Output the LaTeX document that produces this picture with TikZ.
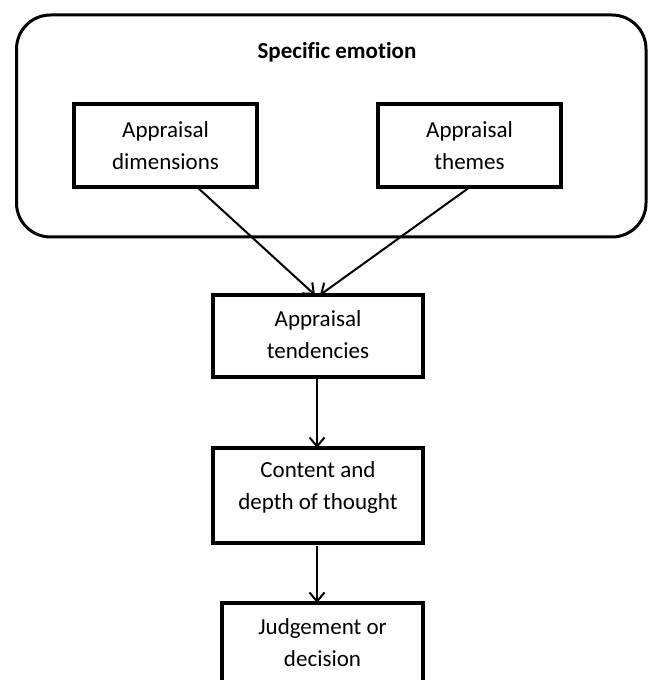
\documentclass[tikz,border=0pt]{standalone}
\usepackage{fontspec}
\setmainfont[Ligatures={NoCommon}]{Carlito}
\usetikzlibrary{arrows.meta}
\tikzset{
  box/.style={draw=black, line width=4pt, fill=white, inner sep=0pt, outer sep=0pt},
  txt/.style={align=center, font=\fontsize{23}{32}\selectfont, text=black, inner sep=0pt},
  conn/.style={line width=2pt, -{Straight Barb[length=9pt,width=15pt,line width=2pt]}},
  outerbox/.style={draw=black, line width=3pt, rounded corners=34pt}
}
\begin{document}
\begin{tikzpicture}[x=1pt,y=1pt]
\useasboundingbox (0,0) rectangle (649,680);
\clip (0,0) rectangle (649,680);
% outer rounded frame
\node[outerbox, minimum width=629.5pt, minimum height=222pt, inner sep=0pt] (frame) at (331.25,554) {};
\node[txt, font=\fontsize{23}{32}\selectfont\bfseries] (title) at (337,628) {Specific emotion};
% boxes
\node[box, minimum width=183pt, minimum height=83pt] (a) at (165.5,534.5) {};
\node[txt] (at) at (a.center) {Appraisal\\dimensions};
\node[box, minimum width=183pt, minimum height=83pt] (b) at (469.5,534.5) {};
\node[txt] (bt) at (b.center) {Appraisal\\themes};
\node[box, minimum width=210pt, minimum height=82pt] (c) at (318,344) {};
\node[txt] (ct) at ([yshift=1pt]c.center) {Appraisal\\tendencies};
\node[box, minimum width=210pt, minimum height=95pt] (d) at (318,184.5) {};
\node[txt] (dt) at (318,193) {Content and\\depth of thought};
\node[box, minimum width=201pt, minimum height=120pt] (e) at (322.5,17) {};
\node[txt] (et) at (322.5,37) {Judgement or\\decision};
% connectors
\draw[conn] ([xshift=31.5pt]a.south) -- ([xshift=-3pt]c.north);
\draw[conn] ([xshift=0.5pt]b.south) -- ([xshift=2pt]c.north);
\draw[conn] ([xshift=-1pt]c.south) -- ([xshift=-1pt]d.north);
\draw[conn, shorten <=3pt] ([xshift=-1pt]d.south) -- ([xshift=-1pt]d.south |- e.north);
\end{tikzpicture}
\end{document}
